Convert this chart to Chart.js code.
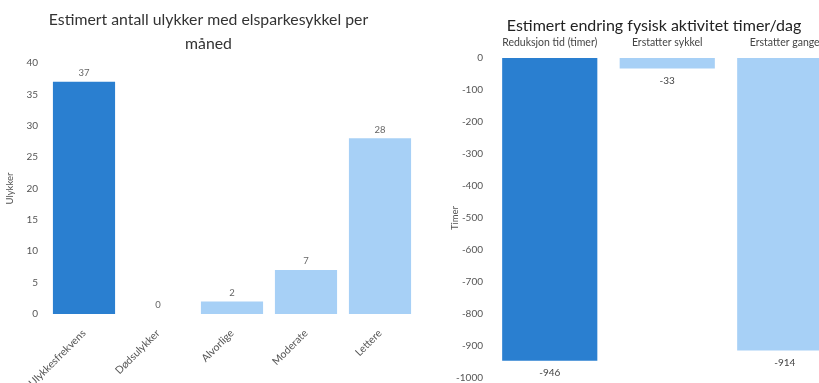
<!DOCTYPE html>
<html>
<head>
<meta charset="utf-8">
<script src="https://cdn.jsdelivr.net/npm/chart.js@4/dist/chart.umd.min.js"></script>
<style>
  html, body { margin: 0; padding: 0; background: #fff; overflow: hidden; }
  #wrap { position: relative; width: 819px; height: 383px; overflow: hidden; background: #fff; }
  #accidents { position: absolute; left: 0; top: 0; }
  #activity { position: absolute; left: 415px; top: 0; }
  #activityTitle {
    position: absolute; left: 415px; top: 15px; width: 478px;
    text-align: center; font: 16px Lato, "Open Sans", sans-serif; color: #222;
    line-height: 20px; white-space: nowrap;
  }
</style>
</head>
<body>
<div id="wrap">
  <canvas id="accidents" width="420" height="383"></canvas>
  <canvas id="activity" width="478" height="395"></canvas>
  <div id="activityTitle">Estimert endring fysisk aktivitet timer/dag</div>
</div>
<script>
// Accidents per month
const accidentCategories = ['Ulykkesfrekvens', 'Dødsulykker', 'Alvorlige', 'Moderate', 'Lettere'];
const accidentValues = [37, 0, 2, 7, 28];

// Change in physical activity (hours/day)
const activityCategories = ['Reduksjon tid (timer)', 'Erstatter sykkel', 'Erstatter gange'];
const activityValues = [-946, -33, -914];

const DARK = '#2a7fd0';
const LIGHT = '#a7d0f6';
const FONT = 'Lato, "Open Sans", sans-serif';

// Writes each bar's value just beyond its end
const valueLabels = {
  id: 'valueLabels',
  afterDatasetsDraw(chart, args, opts) {
    const ctx = chart.ctx;
    const meta = chart.getDatasetMeta(0);
    const data = chart.data.datasets[0].data;
    ctx.save();
    ctx.font = opts.size + 'px ' + FONT;
    ctx.fillStyle = opts.color;
    ctx.textAlign = 'center';
    meta.data.forEach((bar, i) => {
      const v = data[i];
      if (v >= 0) {
        ctx.textBaseline = 'bottom';
        ctx.fillText(String(v), bar.x, bar.y - opts.offset);
      } else {
        ctx.textBaseline = 'top';
        ctx.fillText(String(v), bar.x, bar.y + opts.offset);
      }
    });
    ctx.restore();
  }
};

new Chart(document.getElementById('accidents'), {
  type: 'bar',
  data: {
    labels: accidentCategories,
    datasets: [{
      data: accidentValues,
      backgroundColor: accidentValues.map((v, i) => i === 0 ? DARK : LIGHT),
      categoryPercentage: 1,
      barPercentage: 0.84
    }]
  },
  plugins: [valueLabels],
  options: {
    responsive: false,
    animation: false,
    layout: { padding: { right: 3, bottom: 0, top: 0, left: 0 } },
    plugins: {
      legend: { display: false },
      tooltip: { enabled: false },
      title: {
        display: true,
        text: ['Estimert antall ulykker med elsparkesykkel per', 'måned'],
        color: '#333',
        font: { family: FONT, size: 15.8, weight: 'normal', lineHeight: 1.52 },
        padding: { top: 8, bottom: 7 }
      },
      valueLabels: { size: 9.5, color: '#666', offset: 4 }
    },
    scales: {
      x: {
        grid: { display: false, drawTicks: false },
        border: { display: false },
        ticks: {
          minRotation: 45, maxRotation: 45, padding: 13,
          color: '#555', font: { family: FONT, size: 10.5 }
        },
        afterFit(scale) { scale.height = 69; }
      },
      y: {
        min: 0, max: 40,
        grid: { display: false, drawTicks: false },
        border: { display: false },
        ticks: { stepSize: 5, padding: 9, color: '#555', font: { family: FONT, size: 10 } },
        title: {
          display: true, text: 'Ulykker', color: '#555',
          font: { family: FONT, size: 9.5 }, padding: { top: 4, bottom: 0 }
        },
        afterFit(scale) { scale.width = 47; }
      }
    }
  }
});

new Chart(document.getElementById('activity'), {
  type: 'bar',
  data: {
    labels: activityCategories,
    datasets: [{
      data: activityValues,
      backgroundColor: activityValues.map((v, i) => i === 0 ? DARK : LIGHT),
      categoryPercentage: 1,
      barPercentage: 0.81
    }]
  },
  plugins: [valueLabels],
  options: {
    responsive: false,
    animation: false,
    layout: { padding: { left: 0, right: 49.5, bottom: 17, top: 35.2 } },
    plugins: {
      legend: { display: false },
      tooltip: { enabled: false },
      valueLabels: { size: 10, color: '#444', offset: 7 }
    },
    scales: {
      x: {
        position: 'top',
        grid: { display: false, drawTicks: false },
        border: { display: false },
        ticks: { maxRotation: 0, minRotation: 0, padding: 9, color: '#444', font: { family: FONT, size: 10.5 } },
        afterFit(scale) { scale.height = 22.8; }
      },
      y: {
        min: -1000, max: 0,
        grid: { display: false, drawTicks: false },
        border: { display: false },
        ticks: {
          stepSize: 100, padding: 8, color: '#555', font: { family: FONT, size: 10 },
          callback: (v) => String(v)
        },
        title: {
          display: true, text: 'Timer', color: '#555',
          font: { family: FONT, size: 9.5 }, padding: { top: 34, bottom: 0 }
        },
        afterFit(scale) { scale.width = 76; }
      }
    }
  }
});
</script>
</body>
</html>
